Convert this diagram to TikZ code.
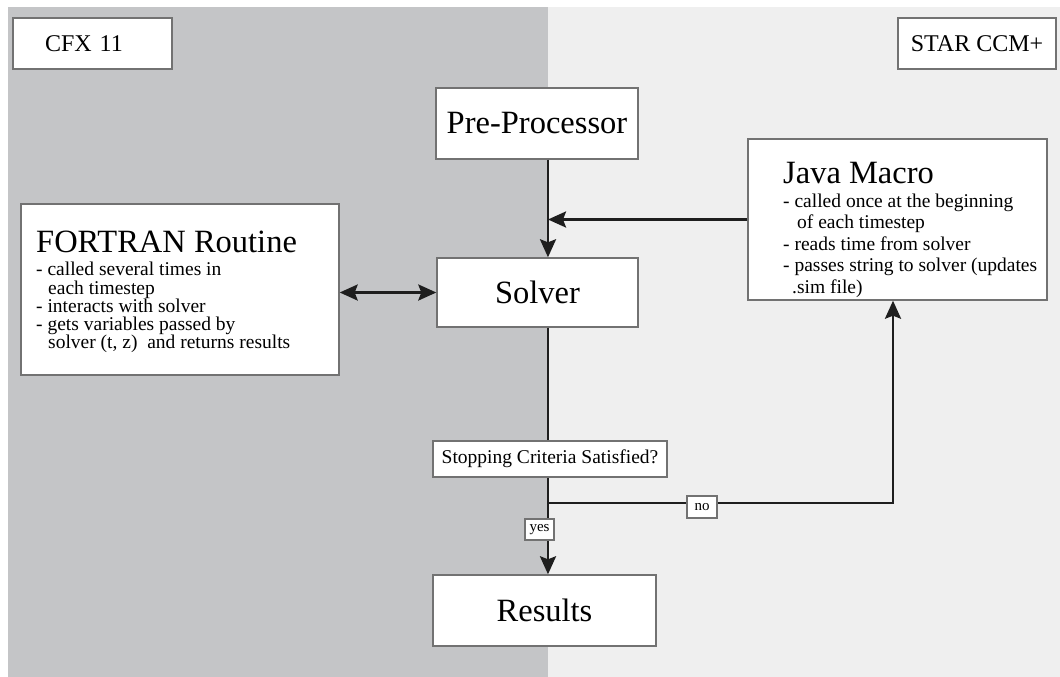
\documentclass[tikz,border=0pt]{standalone}
\usepackage{fontspec}
\setmainfont{Liberation Serif}
\usetikzlibrary{arrows.meta}

\definecolor{cfxgray}{HTML}{C4C5C7}
\definecolor{stargray}{HTML}{EFEFEF}
\definecolor{boxline}{HTML}{727272}
\definecolor{flowline}{HTML}{1E1E1E}

\newcommand{\blockfont}{\fontsize{32.5}{36}\selectfont}
\newcommand{\headfont}{\fontsize{32.5}{36}\selectfont}
\newcommand{\panelfont}{\fontsize{24}{28}\selectfont}
\newcommand{\notefont}{\fontsize{19.5}{18.3}\selectfont}
\newcommand{\javanotefont}{\fontsize{19.5}{21.5}\selectfont}
\newcommand{\ynfont}{\fontsize{15}{17}\selectfont}

\tikzset{
  box/.style={draw=boxline, line width=1.4pt, fill=white, inner sep=0pt},
  flow/.style={draw=flowline, line width=2.6pt},
  flowarrow/.style={-{Stealth[length=18pt,width=16pt,inset=3pt]}},
  twoway/.style={{Stealth[length=18pt,width=16pt,inset=3pt]}-{Stealth[length=18pt,width=16pt,inset=3pt]}},
}

\begin{document}
\begin{tikzpicture}[x=1pt,y=-1pt]
    \useasboundingbox (0,0) rectangle (1060,677);
    % the two codes
    \fill[cfxgray] (8,7) rectangle (548,677);
    \fill[stargray] (548,7) rectangle (1060,677);

    \node[box, minimum height=51pt, text width=95pt, inner xsep=32pt, align=left, font=\panelfont] (cfx) at (92.5,43.5) {CFX 11};
    \node[box, minimum width=158pt, minimum height=51pt, font=\panelfont] (star) at (977,43.5) {STAR CCM+};

    % main blocks
    \node[box, minimum width=202pt, minimum height=71pt, font=\blockfont] (pre) at (537,123.5) {Pre-Processor};
    \node[box, minimum width=201pt, minimum height=69pt, font=\blockfont] (solver) at (537.5,292.5) {Solver};
    \node[box, minimum width=223pt, minimum height=71pt, font=\blockfont] (results) at (544.5,610.5) {Results};

    % user routines
    \node[box, minimum width=318pt, minimum height=171pt] (fortran) at (180,289.5) {};
    \node[anchor=north west, inner sep=0pt, align=left, font=\notefont] (fortrantext) at (36,231)
        {{\headfont FORTRAN Routine}\\[4.7pt]
         - called several times in\\
         \hspace*{12pt}each timestep\\
         - interacts with solver\\
         - gets variables passed by\\
         \hspace*{12pt}solver (t, z)~ and returns results};
    \node[box, minimum width=299pt, minimum height=161pt] (java) at (897.5,219.5) {};
    \node[anchor=north west, inner sep=0pt, align=left, font=\javanotefont] (javatext) at (783,162)
        {{\headfont Java Macro}\\[2.5pt]
         - called once at the beginning\\
         \hspace*{14pt}of each timestep\\
         - reads time from solver\\
         - passes string to solver (updates\\
         \hspace*{9pt}.sim file)};

    % connectors
    \coordinate (axis) at (548,0);
    \coordinate (split) at (548,503);
    \coordinate (turn) at (893,503);
    \draw[flow, flowarrow] (pre.south -| axis) -- (solver.north -| axis);
    \draw[flow, flowarrow] (java.west) -- (java.west -| axis);
    \draw[flow, twoway] (solver.west -| fortran.east) -- (solver.west);
    \draw[flow] (solver.south -| axis) -- (split);
    \draw[flow, flowarrow] (split) -- (results.north -| axis);
    \draw[flow, flowarrow] (split) -- (turn) -- (turn |- java.south);

    % decision and branch tags
    \node[box, minimum width=234pt, minimum height=36pt, font=\notefont] (stop) at (550,459) {Stopping Criteria Satisfied?};
    \node[box, minimum width=29pt, minimum height=21pt, font=\ynfont] (yes) at (539.5,529.5) {yes};
    \node[box, minimum width=30pt, minimum height=22pt, font=\ynfont] (no) at (702,507) {no};
\end{tikzpicture}
\end{document}
